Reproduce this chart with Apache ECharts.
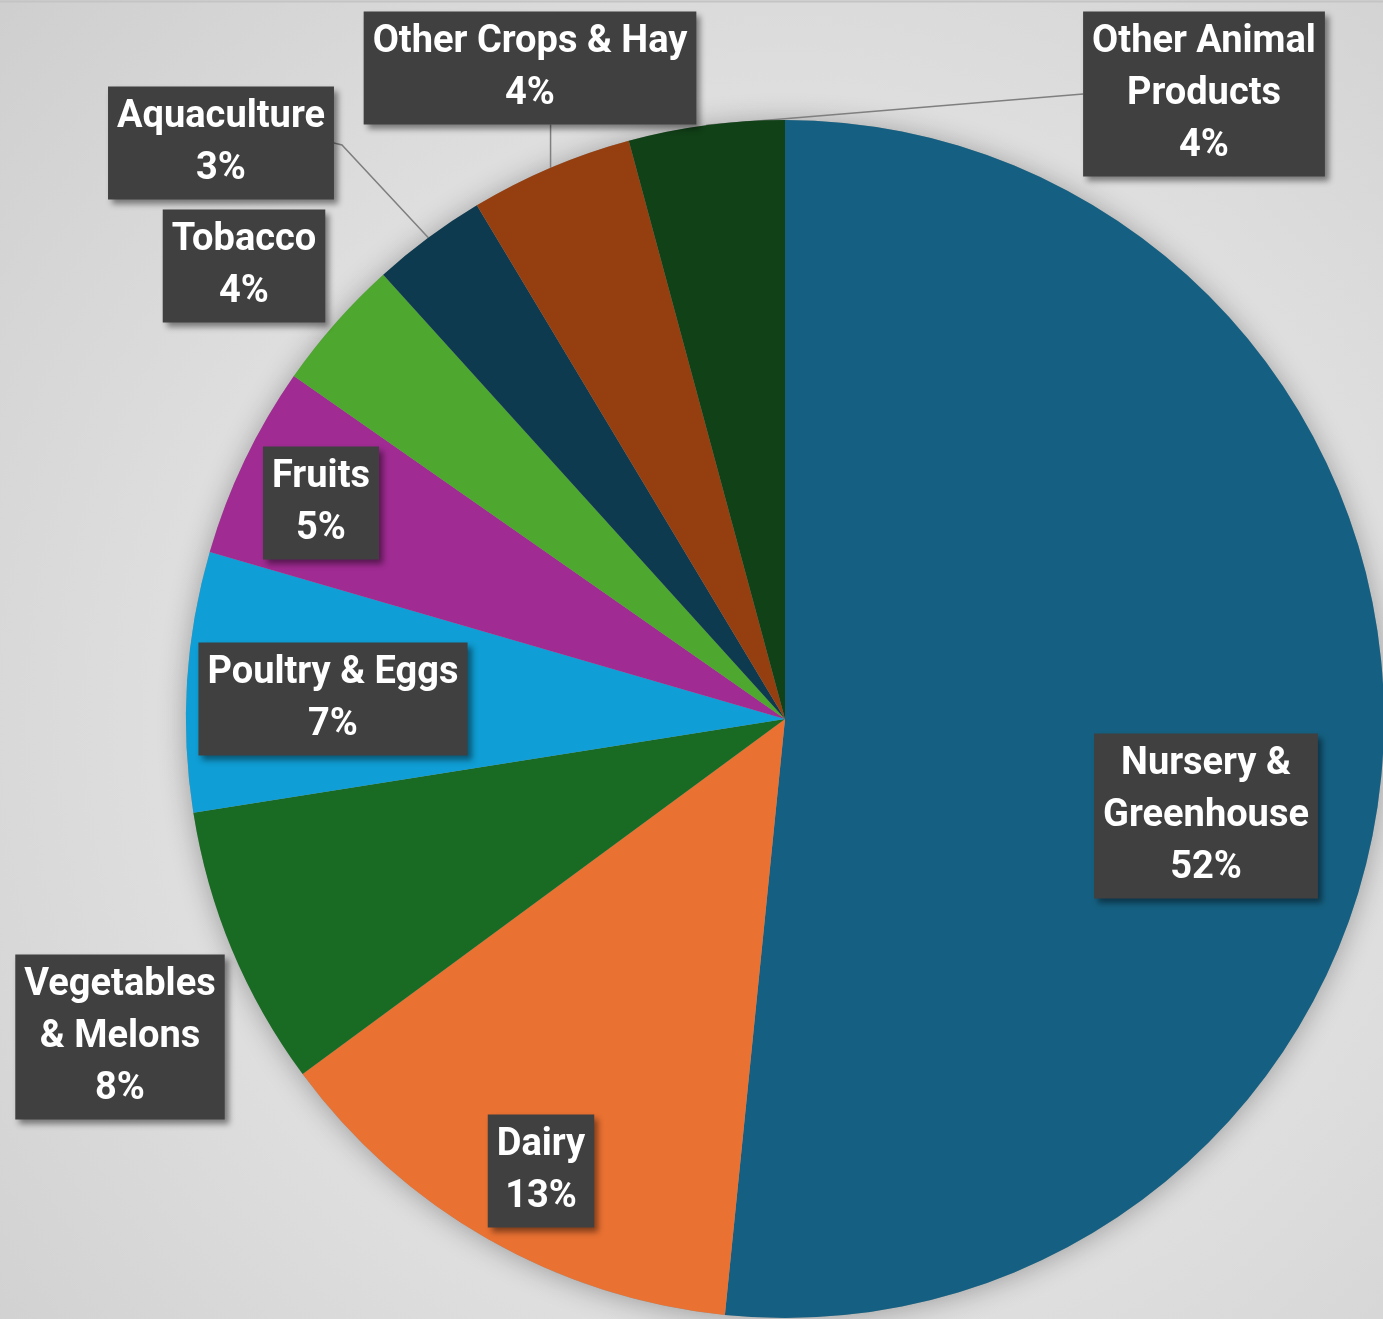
<!DOCTYPE html>
<html>
<head>
<meta charset="utf-8">
<script src="https://cdn.jsdelivr.net/npm/echarts@6/dist/echarts.min.js"></script>
<style>
html,body{margin:0;padding:0;}
#chart{width:1383px;height:1319px;}
</style>
</head>
<body>
<div id="chart"></div>
<script>
// ---- data ----
var categories = ['Nursery & Greenhouse','Dairy','Vegetables & Melons','Poultry & Eggs','Fruits','Tobacco','Aquaculture','Other Crops & Hay','Other Animal Products'];
var labelNames = ['Nursery &\nGreenhouse','Dairy','Vegetables\n& Melons','Poultry & Eggs','Fruits','Tobacco','Aquaculture','Other Crops & Hay','Other Animal\nProducts'];
var shares = [51.6, 13.3, 7.6, 7.0, 5.2, 3.6, 3.1, 4.4, 4.2];
var colors = ['#156082','#E97132','#196B24','#0F9ED5','#A02B93','#4EA72E','#0E3A4F','#953F10','#114117'];
var outsideLabels = ['Aquaculture','Other Crops & Hay','Other Animal Products'];

// ---- layout (label box centres) ----
var labelCenters = [[1206,816],[541,1171],[120,1037],[333,699],[321,503],[244,266],[221,143],[530,68],[1204,94]];
var CENTER = [785, 719];
var RADIUS = 599;

var chart = echarts.init(document.getElementById('chart'), null, {renderer:'canvas'});

var data = categories.map(function(c, i){
  var outside = outsideLabels.indexOf(c) >= 0;
  return {
    name: c,
    value: shares[i],
    itemStyle: {color: colors[i]},
    label: {position: outside ? 'outside' : 'inside'},
    labelLine: {show: outside}
  };
});

chart.setOption({
  backgroundColor: {
    type: 'radial', x: 0.57, y: 0.55, r: 0.85,
    colorStops: [{offset:0, color:'#f4f4f4'},{offset:1, color:'#cdcdcd'}]
  },
  animation: false,
  graphic: [{
    type: 'line', shape: {x1:0, y1:1.5, x2:1383, y2:1.5},
    style: {stroke:'#c4c4c4', lineWidth:2}, z: 100
  }],
  series: [
    {
      type: 'pie', center: CENTER, radius: RADIUS, silent: true, z: 1,
      data: [{value: 1, name: 'shadow'}],
      label: {show: false}, labelLine: {show: false},
      itemStyle: {color: '#9a9a9a', shadowBlur: 28, shadowColor: 'rgba(0,0,0,0.30)', shadowOffsetX: 0, shadowOffsetY: 2}
    },
    {
      type: 'pie', center: CENTER, radius: RADIUS, z: 2,
      startAngle: 90, clockwise: true,
      avoidLabelOverlap: false,
      data: data,
      itemStyle: {borderWidth: 0},
      label: {
        show: true,
        rotate: 0,
        formatter: function(p){ return labelNames[p.dataIndex] + '\n' + Math.round(p.percent) + '%'; },
        fontFamily: 'Roboto, "Noto Sans", sans-serif',
        fontWeight: 'bold',
        fontSize: 38,
        lineHeight: 52,
        color: '#ffffff',
        align: 'center',
        backgroundColor: '#404040',
        padding: [9, 9, 0, 9],
        shadowColor: 'rgba(0,0,0,0.45)',
        shadowBlur: 6,
        shadowOffsetX: 4,
        shadowOffsetY: 4
      },
      labelLine: {
        lineStyle: {color: '#7f7f7f', width: 1.5},
        length: 20, length2: 20
      },
      labelLayout: function(p){
        var i = p.dataIndex;
        var c = labelCenters[i];
        var w = p.labelRect.width, h = p.labelRect.height;
        var res = {x: c[0], y: c[1], align: 'center', verticalAlign: 'middle'};
        var pts = p.labelLinePoints;
        if (pts && pts.length) {
          var a = pts[0];
          var name = categories[i];
          if (name === 'Other Animal Products') {
            res.labelLinePoints = [a, [c[0] - w/2, c[1]]];
          } else if (name === 'Other Crops & Hay') {
            res.labelLinePoints = [a, [a[0], c[1] + h/2]];
          } else if (name === 'Aquaculture') {
            res.labelLinePoints = [a, [c[0] + w/2 + 8, c[1] + 2], [c[0] + w/2, c[1]]];
          }
        }
        return res;
      }
    }
  ]
});
</script>
</body>
</html>
